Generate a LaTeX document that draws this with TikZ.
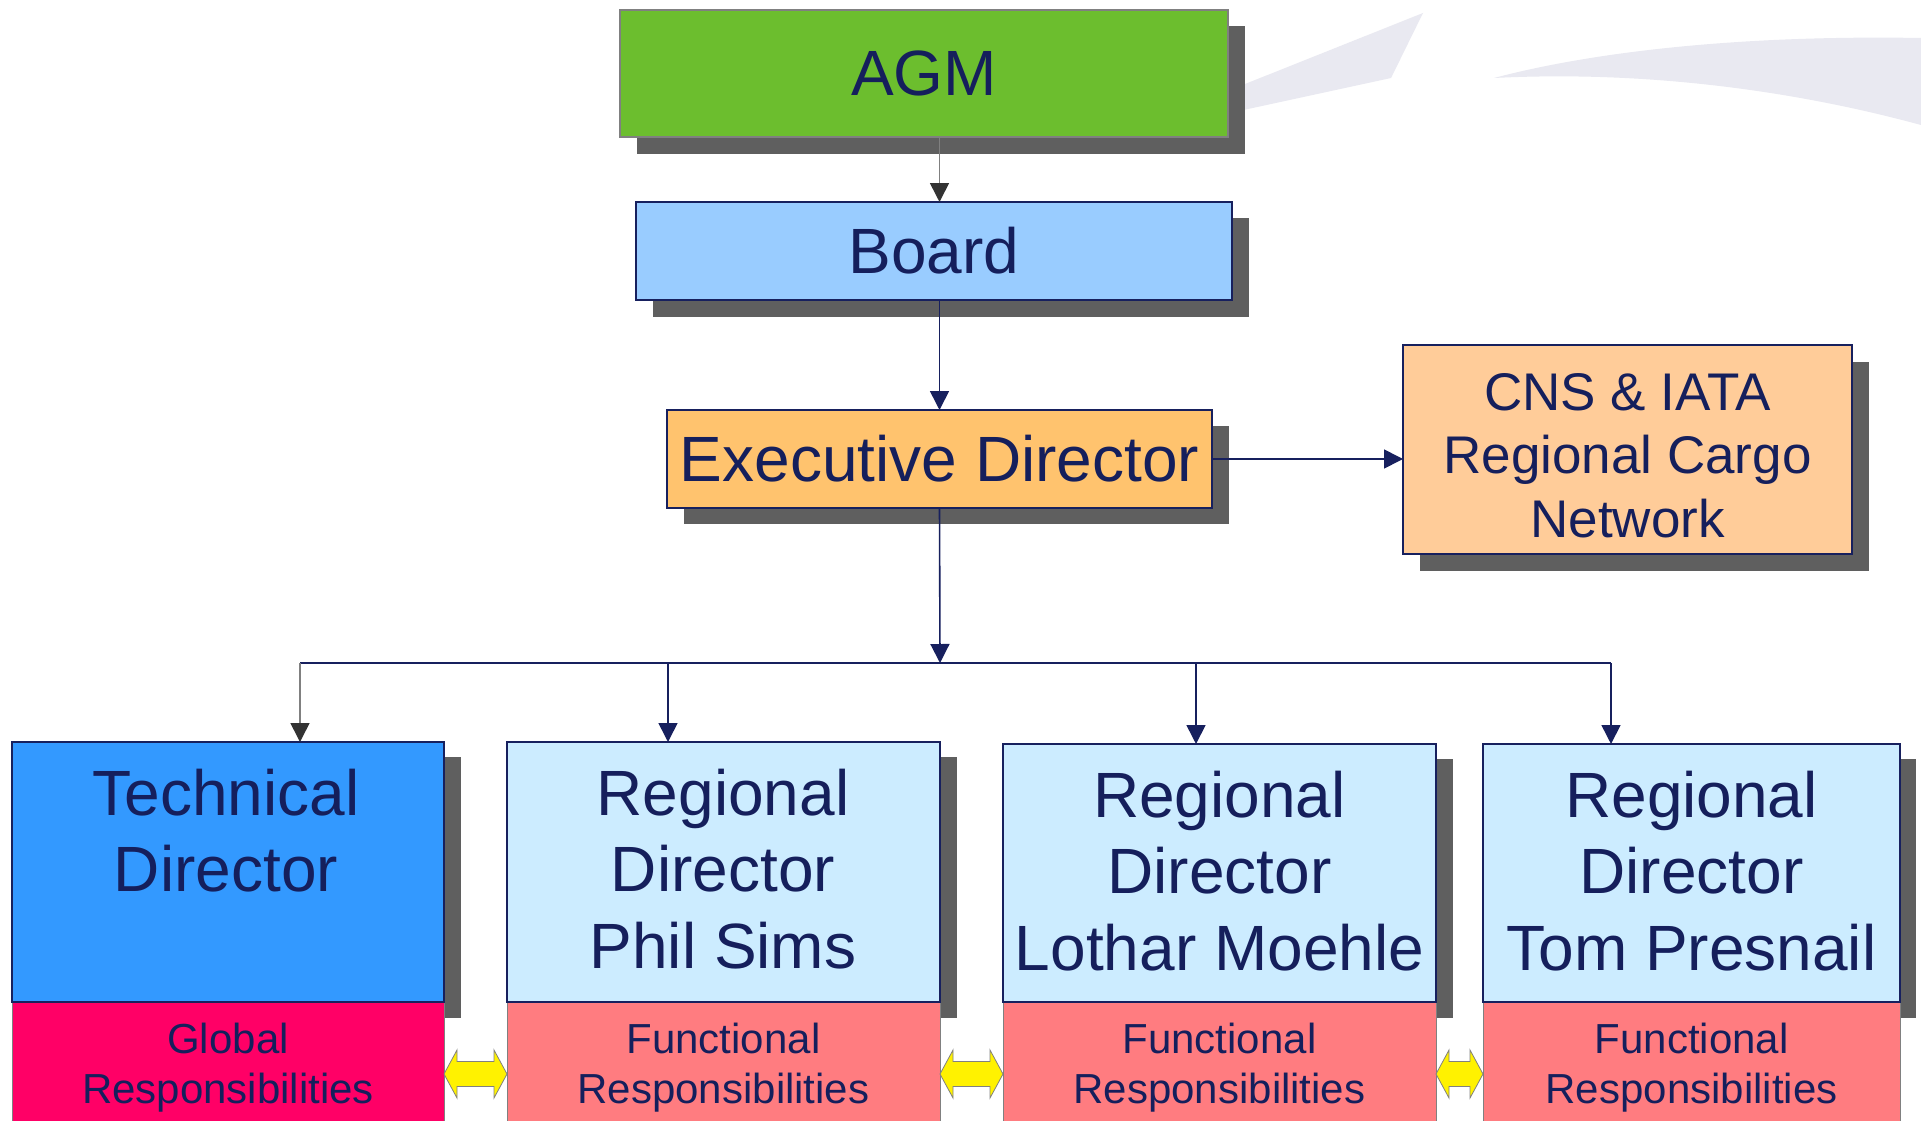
\documentclass[tikz,border=0pt]{standalone}
\usepackage{fontspec}
\setmainfont{Liberation Sans}
\usetikzlibrary{arrows.meta}
\definecolor{navy}{HTML}{17205E}
\definecolor{txtnavy}{HTML}{151F5C}
\definecolor{shadowc}{HTML}{5F5F5F}
\definecolor{agmgreen}{HTML}{6CBE2E}
\definecolor{boardblue}{HTML}{99CCFF}
\definecolor{edorange}{HTML}{FFC36E}
\definecolor{cnspeach}{HTML}{FFCC99}
\definecolor{techblue}{HTML}{3399FF}
\definecolor{regblue}{HTML}{CCECFF}
\definecolor{hotpink}{HTML}{FF0066}
\definecolor{salmon}{HTML}{FF7C80}
\definecolor{swooshc}{HTML}{E9E9F1}
\definecolor{arrdark}{HTML}{333333}
\definecolor{linegray}{HTML}{808080}
\begin{document}
\begin{tikzpicture}[x=1pt,y=-1pt,
  box/.style={draw=navy, line width=2pt, inner sep=0pt, outer sep=0pt, rectangle},
  lowbox/.style={draw=linegray, line width=1pt, inner sep=0pt, outer sep=0pt, rectangle},
  bigtxt/.style={text=txtnavy, inner sep=0pt, font=\fontsize{64}{76.5}\selectfont},
  cnstxt/.style={text=txtnavy, inner sep=0pt, font=\fontsize{53}{63.5}\selectfont},
  smalltxt/.style={text=txtnavy, inner sep=0pt, font=\fontsize{42}{50}\selectfont},
  conn/.style={draw=navy, line width=1.6pt},
  gconn/.style={draw=linegray, line width=1.6pt},
  tip/.style={-{Triangle[length=19pt,width=19pt]}},
  gtip/.style={-{Triangle[length=19pt,width=19pt,color=arrdark]}},
  yarr/.style={fill=yellow, draw=linegray, line width=0.8pt, line join=miter}
]
\useasboundingbox (0,0) rectangle (1921,1121);
\clip (0,0) rectangle (1921,1121);
\fill[white] (0,0) rectangle (1921,1121);

% background swooshes
\fill[swooshc] (1225,92) -- (1423,13) -- (1391,78) -- (1225,114) -- cycle;
\fill[swooshc] (1494,78) .. controls (1600,50) and (1750,35) .. (1921,38)
  -- (1921,125) .. controls (1800,92) and (1650,70) .. (1494,78) -- cycle;

% shadows
\fill[shadowc] (637,26) rectangle (1245,154);
\fill[shadowc] (653,218) rectangle (1249,317);
\fill[shadowc] (684,426) rectangle (1229,524);
\fill[shadowc] (1420,362) rectangle (1869,571);
\fill[shadowc] (29,757) rectangle (461,1018);
\fill[shadowc] (524,757) rectangle (957,1018);
\fill[shadowc] (1020,759) rectangle (1453,1018);
\fill[shadowc] (1500,759) rectangle (1916,1018);

% top boxes
\node[box, draw=linegray, line width=1.2pt, fill=agmgreen, minimum width=608pt, minimum height=127pt]
  (agm) at (924,73.5) {};
\node[bigtxt] (agmt) at (agm.center) {AGM};
\node[box, fill=boardblue, minimum width=596pt, minimum height=98pt] (board) at (934,251) {};
\node[bigtxt] (boardt) at (board.center) {Board};
\node[box, fill=edorange, minimum width=545pt, minimum height=98pt] (ed) at (939.5,459) {};
\node[bigtxt] (edt) at (ed.center) {Executive Director};
\node[box, fill=cnspeach, minimum width=449pt, minimum height=209pt] (cns) at (1627.5,449.5) {};
\node[cnstxt, anchor=base] (cnst) at (1627.5,410)
  {\begin{tabular}[t]{@{}c@{}}CNS \& IATA\\Regional Cargo\\Network\end{tabular}};

% lower pink boxes
\node[lowbox, fill=hotpink, minimum width=432pt, minimum height=140pt] (techb) at (228,1072) {};
\node[lowbox, fill=salmon, minimum width=433pt, minimum height=140pt] (reg1b) at (723.5,1072) {};
\node[lowbox, fill=salmon, minimum width=433pt, minimum height=140pt] (reg2b) at (1219.5,1072) {};
\node[lowbox, fill=salmon, minimum width=417pt, minimum height=140pt] (reg3b) at (1691.5,1072) {};

% director boxes
\node[box, fill=techblue, minimum width=432pt, minimum height=260pt] (tech) at (228,872) {};
\node[box, fill=regblue, minimum width=433pt, minimum height=260pt] (reg1) at (723.5,872) {};
\node[box, fill=regblue, minimum width=433pt, minimum height=258pt] (reg2) at (1219.5,873) {};
\node[box, fill=regblue, minimum width=417pt, minimum height=258pt] (reg3) at (1691.5,873) {};

\node[bigtxt, anchor=base] (techt) at (226,815)
  {\begin{tabular}[t]{@{}c@{}}Technical\\Director\end{tabular}};
\node[bigtxt, anchor=base] (reg1t) at (723,815)
  {\begin{tabular}[t]{@{}c@{}}Regional\\Director\\Phil Sims\end{tabular}};
\node[bigtxt, anchor=base] (reg2t) at (1219.5,817)
  {\begin{tabular}[t]{@{}c@{}}Regional\\Director\\Lothar Moehle\end{tabular}};
\node[bigtxt, anchor=base] (reg3t) at (1691.5,817)
  {\begin{tabular}[t]{@{}c@{}}Regional\\Director\\Tom Presnail\end{tabular}};

\node[smalltxt, anchor=base] (techbt) at (228,1053)
  {\begin{tabular}[t]{@{}c@{}}Global\\Responsibilities\end{tabular}};
\node[smalltxt, anchor=base] (reg1bt) at (723.5,1053)
  {\begin{tabular}[t]{@{}c@{}}Functional\\Responsibilities\end{tabular}};
\node[smalltxt, anchor=base] (reg2bt) at (1219.5,1053)
  {\begin{tabular}[t]{@{}c@{}}Functional\\Responsibilities\end{tabular}};
\node[smalltxt, anchor=base] (reg3bt) at (1691.5,1053)
  {\begin{tabular}[t]{@{}c@{}}Functional\\Responsibilities\end{tabular}};

% connectors
\coordinate (bus) at (940,663);
\coordinate (d1) at (300,663);
\coordinate (d2) at (668,663);
\coordinate (d3) at (1196,663);
\coordinate (d4) at (1611,663);

\draw[gconn, gtip] (agm.south -| ed.north) -- (board.north -| ed.north);
\draw[conn, tip] (board.south -| ed.north) -- (ed.north);
\draw[conn, tip] (ed.east) -- (ed.east -| cns.west);
\draw[conn, tip] (ed.south) -- (bus);
\draw[conn] (d1) -- (d4);
\draw[gconn, gtip] (d1) -- (d1 |- tech.north);
\draw[conn, tip] (d2) -- (d2 |- reg1.north);
\draw[conn, tip] (d3) -- (d3 |- reg2.north);
\draw[conn, tip] (d4) -- (d4 |- reg3.north);

% yellow double arrows
\newcommand\yarrow[3]{%
  \filldraw[yarr] (#1,#3) -- ({#1+13},{#3-24}) -- ({#1+13},{#3-12.5}) -- ({#2-13},{#3-12.5})
    -- ({#2-13},{#3-24}) -- (#2,#3) -- ({#2-13},{#3+24}) -- ({#2-13},{#3+12.5})
    -- ({#1+13},{#3+12.5}) -- ({#1+13},{#3+24}) -- cycle;}
\yarrow{444}{507}{1074}
\yarrow{940}{1003}{1074}
\yarrow{1436}{1483}{1074}
\end{tikzpicture}
\end{document}
